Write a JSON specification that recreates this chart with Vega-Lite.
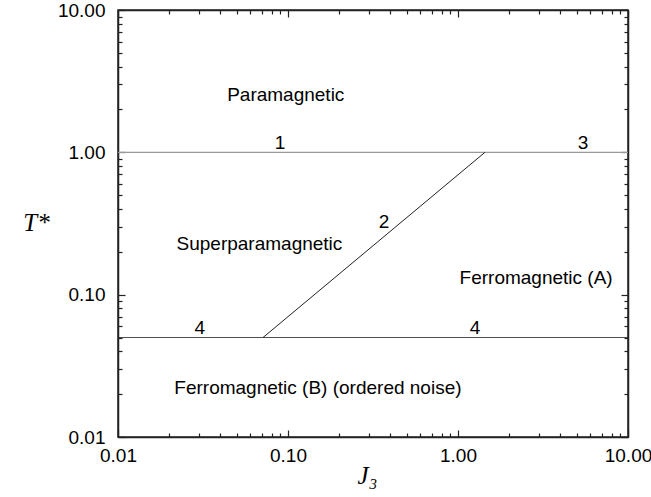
{
  "$schema": "https://vega.github.io/schema/vega-lite/v6.json",
  "width": 510,
  "height": 427,
  "autosize": {"type": "none"},
  "padding": {"left": 118, "top": 10, "right": 23, "bottom": 60},
  "background": "white",
  "config": {
    "view": {"stroke": "#222", "strokeWidth": 1.5},
    "axis": {
      "grid": false,
      "domainColor": "#222",
      "domainWidth": 1.5,
      "tickColor": "#222",
      "tickWidth": 1.2,
      "labelFont": "Liberation Sans",
      "labelFontSize": 19,
      "labelColor": "#000",
      "titleFont": "Liberation Serif",
      "titleFontStyle": "italic",
      "titleFontWeight": "normal",
      "titleFontSize": 25,
      "titleColor": "#000"
    }
  },
  "datasets": {
    "lines": [
      {"series": "1", "J3": 0.01, "T": 1},
      {"series": "1", "J3": 10, "T": 1},
      {"series": "2", "J3": 0.0713, "T": 0.05},
      {"series": "2", "J3": 1.44, "T": 1},
      {"series": "4", "J3": 0.01, "T": 0.05},
      {"series": "4", "J3": 10, "T": 0.05}
    ],
    "labels": [
      {"J3": 0.097, "T": 2.53, "label": "Paramagnetic"},
      {"J3": 0.0897, "T": 1.16, "label": "1"},
      {"J3": 5.43, "T": 1.16, "label": "3"},
      {"J3": 0.367, "T": 0.324, "label": "2"},
      {"J3": 0.0303, "T": 0.0582, "label": "4"},
      {"J3": 1.26, "T": 0.0582, "label": "4"},
      {"J3": 0.0679, "T": 0.227, "label": "Superparamagnetic"},
      {"J3": 2.88, "T": 0.131, "label": "Ferromagnetic (A)"},
      {"J3": 0.150, "T": 0.0221, "label": "Ferromagnetic (B) (ordered noise)"}
    ]
  },
  "layer": [
    {
      "data": {"name": "lines"},
      "mark": {"type": "line", "clip": true},
      "encoding": {
        "x": {
          "field": "J3", "type": "quantitative",
          "scale": {"type": "log", "domain": [0.01, 10], "nice": false},
          "axis": {
            "orient": "bottom",
            "title": "J₃",
            "titleX": 249, "titleY": 38,
            "titleAlign": "center", "titleBaseline": "middle",
            "values": [0.01,0.02,0.03,0.04,0.05,0.06,0.07,0.08,0.09,0.1,0.2,0.3,0.4,0.5,0.6,0.7,0.8,0.9,1,2,3,4,5,6,7,8,9,10],
            "labelExpr": "(datum.value==0.01||datum.value==0.1||datum.value==1||datum.value==10) ? format(datum.value,'.2f') : ''",
            "tickSize": {"condition": {"test": "datum.value==0.01||datum.value==0.1||datum.value==1||datum.value==10", "value": -7}, "value": -4},
            "labelPadding": 16,
            "labelFlush": false,
            "labelOverlap": false
          }
        },
        "y": {
          "field": "T", "type": "quantitative",
          "scale": {"type": "log", "domain": [0.01, 10], "nice": false},
          "axis": {
            "orient": "left",
            "title": "T*",
            "titleAngle": 0,
            "titleX": -82, "titleY": 212,
            "titleAlign": "center", "titleBaseline": "middle",
            "values": [0.01,0.02,0.03,0.04,0.05,0.06,0.07,0.08,0.09,0.1,0.2,0.3,0.4,0.5,0.6,0.7,0.8,0.9,1,2,3,4,5,6,7,8,9,10],
            "labelExpr": "(datum.value==0.01||datum.value==0.1||datum.value==1||datum.value==10) ? format(datum.value,'.2f') : ''",
            "tickSize": {"condition": {"test": "datum.value==0.01||datum.value==0.1||datum.value==1||datum.value==10", "value": -7}, "value": -4},
            "labelPadding": 20,
            "labelFlush": false,
            "labelOverlap": false
          }
        },
        "detail": {"field": "series"},
        "color": {"field": "series", "type": "nominal", "scale": {"domain": ["1", "2", "4"], "range": ["#999999", "#222222", "#222222"]}, "legend": null},
        "strokeWidth": {"field": "series", "type": "nominal", "scale": {"domain": ["1", "2", "4"], "range": [1.2, 0.8, 1.7]}, "legend": null}
      }
    },
    {
      "data": {"name": "labels"},
      "mark": {"type": "text", "font": "Liberation Sans", "fontSize": 19, "align": "center", "baseline": "middle", "color": "#000"},
      "encoding": {
        "x": {"field": "J3", "type": "quantitative", "axis": null},
        "y": {"field": "T", "type": "quantitative", "axis": null},
        "text": {"field": "label"}
      }
    },
    {
      "data": {"name": "lines"},
      "mark": {"type": "point", "opacity": 0},
      "encoding": {
        "x": {
          "field": "J3", "type": "quantitative",
          "axis": {
            "orient": "top", "title": null, "labels": false,
            "values": [0.01,0.02,0.03,0.04,0.05,0.06,0.07,0.08,0.09,0.1,0.2,0.3,0.4,0.5,0.6,0.7,0.8,0.9,1,2,3,4,5,6,7,8,9,10],
            "tickSize": {"condition": {"test": "datum.value==0.01||datum.value==0.1||datum.value==1||datum.value==10", "value": -7}, "value": -4}
          }
        },
        "y": {
          "field": "T", "type": "quantitative",
          "axis": {
            "orient": "right", "title": null, "labels": false,
            "values": [0.01,0.02,0.03,0.04,0.05,0.06,0.07,0.08,0.09,0.1,0.2,0.3,0.4,0.5,0.6,0.7,0.8,0.9,1,2,3,4,5,6,7,8,9,10],
            "tickSize": {"condition": {"test": "datum.value==0.01||datum.value==0.1||datum.value==1||datum.value==10", "value": -7}, "value": -4}
          }
        }
      }
    }
  ],
  "resolve": {"axis": {"x": "independent", "y": "independent"}}
}
